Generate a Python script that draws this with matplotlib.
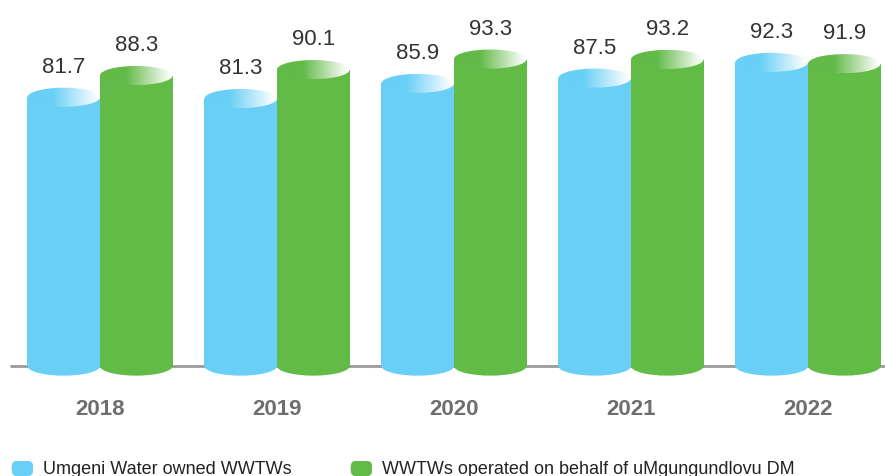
#!/usr/bin/env python3
"""Cylinder bar chart: WWTW compliance by year"""

import numpy as np
import matplotlib
matplotlib.use('Agg')
import matplotlib.pyplot as plt
import matplotlib.patches as patches
from matplotlib.colors import to_rgb

years = ['2018', '2019', '2020', '2021', '2022']
owned = [81.7, 81.3, 85.9, 87.5, 92.3]
operated = [88.3, 90.1, 93.3, 93.2, 91.9]
series_names = ['Umgeni Water owned WWTWs',
                'WWTWs operated on behalf of uMgungundlovu DM']

BLUE = '#69cff6'
GREEN = '#62ba47'
BAR_W = 0.41
ELL_H = 2.9     # half height of the cylinder ellipses, in value units

plt.rcParams['font.family'] = ['Liberation Sans', 'DejaVu Sans']


def gradient_strip(color, n=200, start=0.35, end=0.97, reverse=False):
    """Colour -> white ramp used for the cylinder tops"""
    c = np.array(to_rgb(color))
    t = np.clip((np.linspace(0, 1, n) - start) / (end - start), 0, 1)
    if reverse:
        t = t[::-1]
    rgb = c[None, :] * (1 - t[:, None]) + np.ones(3)[None, :] * t[:, None]
    return rgb[None, :, :]


def draw_cylinder(ax, xc, value, color, h=ELL_H, w=BAR_W, z=2):
    x0 = xc - w / 2
    # bottom cap
    ax.add_patch(patches.Ellipse((xc, 0), w, 2 * h, facecolor=color,
                                 edgecolor='none', zorder=z))
    # body
    ax.add_patch(patches.Rectangle((x0, 0), w, value, facecolor=color,
                                   edgecolor='none', zorder=z))
    # top cap with shading
    top = patches.Ellipse((xc, value), w, 2 * h, facecolor='none',
                          edgecolor='none', zorder=z + 0.1)
    ax.add_patch(top)
    im = ax.imshow(gradient_strip(color), extent=[x0, x0 + w, value - h, value + h],
                   aspect='auto', zorder=z + 0.2, interpolation='bilinear')
    im.set_clip_path(top)


fig = plt.figure(figsize=(8.85, 4.77), dpi=100)
ax = fig.add_axes([0, 0, 1, 1])

x = np.arange(len(years))
for i in range(len(years)):
    draw_cylinder(ax, x[i] - BAR_W / 2, owned[i], BLUE)
    draw_cylinder(ax, x[i] + BAR_W / 2, operated[i], GREEN)
    ax.text(x[i] - BAR_W / 2, owned[i] + 9.4, f'{owned[i]:.1f}', ha='center',
            va='center', fontsize=16, color='#333333')
    ax.text(x[i] + BAR_W / 2, operated[i] + 9.4, f'{operated[i]:.1f}', ha='center',
            va='center', fontsize=16, color='#333333')
    ax.text(x[i], -12.9, years[i], ha='center', va='center', fontsize=16,
            fontweight='bold', color='#6e6e6e')

# baseline
ax.plot([-0.51, 4.5], [0, 0], color='#9a9a9a', lw=2, zorder=1,
        solid_capstyle='butt')

ax.set_xlim(-0.565, 4.435)
ax.set_ylim(-33.4, 111.55)
ax.axis('off')

# legend, drawn in pixel coordinates
lg = fig.add_axes([0, 0, 1, 1], facecolor='none')
lg.axis('off')
for color, name, px in [(BLUE, series_names[0], 10), (GREEN, series_names[1], 349)]:
    lg.add_patch(patches.FancyBboxPatch((px + 2, 462), 21, 15,
                                        boxstyle='round,pad=0,rounding_size=5',
                                        facecolor=color, edgecolor='none'))
    left = patches.Ellipse((px + 6, 469.5), 10, 15, facecolor='none', edgecolor='none')
    lg.add_patch(left)
    im = lg.imshow(gradient_strip(color, start=0.0, end=1.4, reverse=True),
                   extent=[px + 1, px + 11, 477, 462], aspect='auto',
                   interpolation='bilinear')
    im.set_clip_path(left)
    lg.text(px + 33, 469.5, name, ha='left', va='center', fontsize=13,
            color='#222222')
lg.set_xlim(0, 885)
lg.set_ylim(477, 0)

fig.savefig('out.png', dpi=100, facecolor='white')
